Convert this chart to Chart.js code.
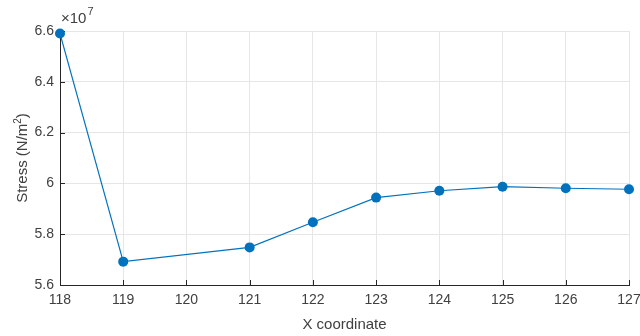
<!DOCTYPE html>
<html>
<head>
<meta charset="utf-8">
<script src="https://cdn.jsdelivr.net/npm/chart.js@4/dist/chart.umd.min.js"></script>
<style>
  html, body { margin: 0; padding: 0; background: #fff; }
  #wrap { width: 640px; height: 336px; }
</style>
</head>
<body>
<div id="wrap"><canvas id="c" width="640" height="336"></canvas></div>
<script>
// Stress sampled along the X coordinate (N/m^2)
const xCoords = [118, 119, 121, 122, 123, 124, 125, 126, 127];
const stressValues = [6.590e7, 5.692e7, 5.748e7, 5.847e7, 5.944e7, 5.971e7, 5.987e7, 5.981e7, 5.977e7];
const xTicks = [118, 119, 120, 121, 122, 123, 124, 125, 126, 127];
const yTicks = [5.6e7, 5.8e7, 6.0e7, 6.2e7, 6.4e7, 6.6e7];

const AXIS = '#262626';
const TEXT = '#404040';
const GRID = '#e6e6e6';
const BLUE = '#0072BD';
const FONT = '"Liberation Sans", Arial, Helvetica, sans-serif';

const points = xCoords.map((x, i) => ({ x, y: stressValues[i] }));

// Inward tick marks, axis labels and the exponent marker
const decorations = {
  id: 'decorations',
  beforeDatasetsDraw(chart) {
    const { ctx, chartArea: a, scales: { x, y } } = chart;
    ctx.save();
    ctx.strokeStyle = AXIS;
    ctx.lineWidth = 1;
    ctx.beginPath();
    xTicks.forEach(v => {
      const px = Math.round(x.getPixelForValue(v)) + 0.5;
      ctx.moveTo(px, a.bottom);
      ctx.lineTo(px, a.bottom - 5);
    });
    yTicks.forEach(v => {
      const py = Math.round(y.getPixelForValue(v)) + 0.5;
      ctx.moveTo(a.left, py);
      ctx.lineTo(a.left + 5, py);
    });
    ctx.stroke();
    ctx.restore();
  },
  afterDraw(chart) {
    const { ctx, chartArea: a } = chart;
    ctx.save();
    ctx.fillStyle = TEXT;

    // x axis title
    ctx.font = '15px ' + FONT;
    ctx.textAlign = 'center';
    ctx.textBaseline = 'middle';
    ctx.fillText('X coordinate', (a.left + a.right) / 2, 325);

    // y axis title with superscript
    ctx.save();
    ctx.translate(22, (a.top + a.bottom) / 2);
    ctx.rotate(-Math.PI / 2);
    const main = 'Stress (N/m';
    const sup = '2';
    const tail = ')';
    ctx.font = '15px ' + FONT;
    const wMain = ctx.measureText(main).width;
    const wTail = ctx.measureText(tail).width;
    ctx.font = '10px ' + FONT;
    const wSup = ctx.measureText(sup).width;
    const total = wMain + wSup + wTail;
    let cx = -total / 2;
    ctx.textAlign = 'left';
    ctx.textBaseline = 'alphabetic';
    ctx.font = '15px ' + FONT;
    ctx.fillText(main, cx, 5);
    cx += wMain;
    ctx.font = '10px ' + FONT;
    ctx.fillText(sup, cx, -1);
    cx += wSup;
    ctx.font = '15px ' + FONT;
    ctx.fillText(tail, cx, 5);
    ctx.restore();

    // exponent marker above the y axis
    ctx.textAlign = 'left';
    ctx.textBaseline = 'alphabetic';
    ctx.font = '15px ' + FONT;
    ctx.fillText('\u00d710', a.left + 1, 23);
    const w = ctx.measureText('\u00d710').width;
    ctx.font = '11px ' + FONT;
    ctx.fillText('7', a.left + 1 + w + 1, 15);
    ctx.restore();
  }
};

new Chart(document.getElementById('c'), {
  type: 'line',
  data: {
    datasets: [{
      data: points,
      borderColor: BLUE,
      backgroundColor: BLUE,
      borderWidth: 1.2,
      pointRadius: 5,
      pointHoverRadius: 5,
      pointBackgroundColor: BLUE,
      pointBorderColor: BLUE,
      pointBorderWidth: 0,
      tension: 0,
      clip: false
    }]
  },
  options: {
    responsive: false,
    animation: false,
    events: [],
    layout: { padding: { top: 31, right: 0, left: 0, bottom: 0 } },
    plugins: { legend: { display: false }, tooltip: { enabled: false } },
    scales: {
      x: {
        type: 'linear',
        min: 118,
        max: 127,
        afterFit(s) { s.height = 51; s.paddingRight = 11; },
        afterBuildTicks(s) { s.ticks = xTicks.map(v => ({ value: v })); },
        ticks: {
          color: TEXT,
          font: { family: FONT, size: 14 },
          padding: 7,
          maxRotation: 0,
          autoSkip: false,
          callback: v => String(v)
        },
        grid: { color: GRID, drawTicks: false, lineWidth: 1 },
        border: { color: AXIS, width: 1 }
      },
      y: {
        type: 'linear',
        min: 5.6e7,
        max: 6.6e7,
        afterFit(s) { s.width = 60; },
        afterBuildTicks(s) { s.ticks = yTicks.map(v => ({ value: v })); },
        ticks: {
          color: TEXT,
          font: { family: FONT, size: 14 },
          padding: 6,
          callback: v => String(Number((v / 1e7).toFixed(1)))
        },
        grid: { color: GRID, drawTicks: false, lineWidth: 1 },
        border: { color: AXIS, width: 1 }
      }
    }
  },
  plugins: [decorations]
});
</script>
</body>
</html>
